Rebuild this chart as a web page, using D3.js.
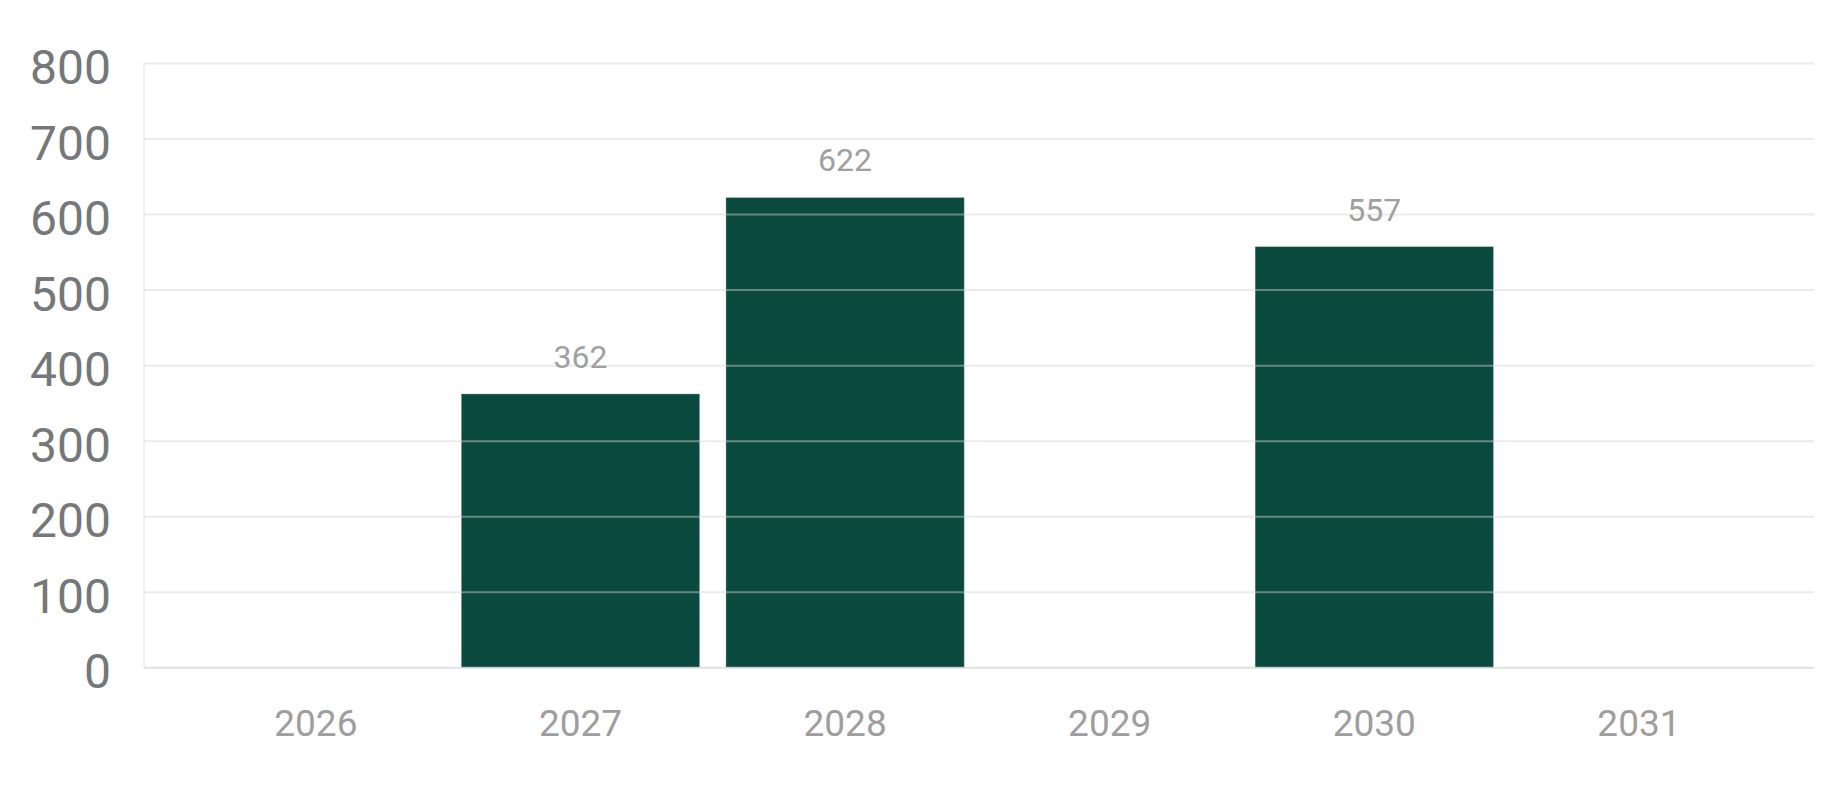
<!DOCTYPE html>
<html>
<head>
<meta charset="utf-8">
<script src="https://cdn.jsdelivr.net/npm/d3@7/dist/d3.min.js"></script>
<style>
  html, body { margin: 0; padding: 0; background: #ffffff; }
  svg { display: block; font-family: Roboto, "Noto Sans", sans-serif; }
</style>
</head>
<body>
<svg id="chart" width="1848" height="788"></svg>
<script>
const categories = ["2026", "2027", "2028", "2029", "2030", "2031"];
const values = [0, 362, 622, 0, 557, 0];
const yTicks = [0, 100, 200, 300, 400, 500, 600, 700, 800];

const svg = d3.select("#chart");
const plot = { left: 144, right: 1814, top: 63, bottom: 667.3 };

const x = d3.scaleBand()
  .domain(categories)
  .range([plot.left - 1.6, plot.right - 1.6])
  .paddingInner(0.099)
  .paddingOuter(0.205);

const y = d3.scaleLinear()
  .domain([0, 800])
  .range([plot.bottom, plot.top]);

const barData = categories.map((c, i) => ({ c, v: values[i] })).filter(d => d.v > 0);

// bars
svg.append("g")
  .selectAll("rect")
  .data(barData)
  .join("rect")
  .attr("x", d => x(d.c))
  .attr("y", d => y(d.v))
  .attr("width", x.bandwidth())
  .attr("height", d => y(0) - y(d.v))
  .attr("fill", "#0b4a3e")
  .attr("stroke", "rgba(255,255,255,0.3)")
  .attr("stroke-width", 1);

// horizontal grid (drawn over bars, semi-transparent)
const grid = svg.append("g")
  .attr("transform", `translate(${plot.left},0)`)
  .call(d3.axisLeft(y).tickValues(yTicks).tickSize(-(plot.right - plot.left)).tickFormat(""));
grid.select(".domain").remove();
grid.selectAll(".tick line")
  .attr("stroke", d => d === 0 ? "rgba(200,200,200,0.55)" : "rgba(210,210,210,0.45)")
  .attr("stroke-width", 2);

// left vertical line
svg.append("line")
  .attr("x1", plot.left).attr("x2", plot.left)
  .attr("y1", y(800)).attr("y2", y(0))
  .attr("stroke", "rgba(215,215,215,0.45)")
  .attr("stroke-width", 1.5);

// y-axis labels
const yAxis = svg.append("g")
  .attr("transform", `translate(${plot.left},0)`)
  .call(d3.axisLeft(y).tickValues(yTicks).tickSize(0).tickPadding(33).tickFormat(d3.format("d")));
yAxis.select(".domain").remove();
yAxis.selectAll("text")
  .attr("fill", "#757878")
  .attr("font-size", 48)
  .attr("font-family", "Roboto, sans-serif")
  .attr("dy", "0.43em");

// x-axis labels
const xAxis = svg.append("g")
  .attr("transform", `translate(0,${plot.bottom})`)
  .call(d3.axisBottom(x).tickSize(0).tickPadding(0));
xAxis.select(".domain").remove();
xAxis.selectAll("text")
  .attr("fill", "#9e9e9e")
  .attr("font-size", 37)
  .attr("font-family", "Roboto, sans-serif")
  .attr("dy", 0)
  .attr("y", 68.4);

// value labels
svg.append("g")
  .selectAll("text")
  .data(barData)
  .join("text")
  .attr("x", d => x(d.c) + x.bandwidth() / 2)
  .attr("y", d => y(d.v) - 26)
  .attr("text-anchor", "middle")
  .attr("fill", "#a0a0a0")
  .attr("font-size", 32)
  .attr("font-family", "Roboto, sans-serif")
  .text(d => d.v);
</script>
</body>
</html>
